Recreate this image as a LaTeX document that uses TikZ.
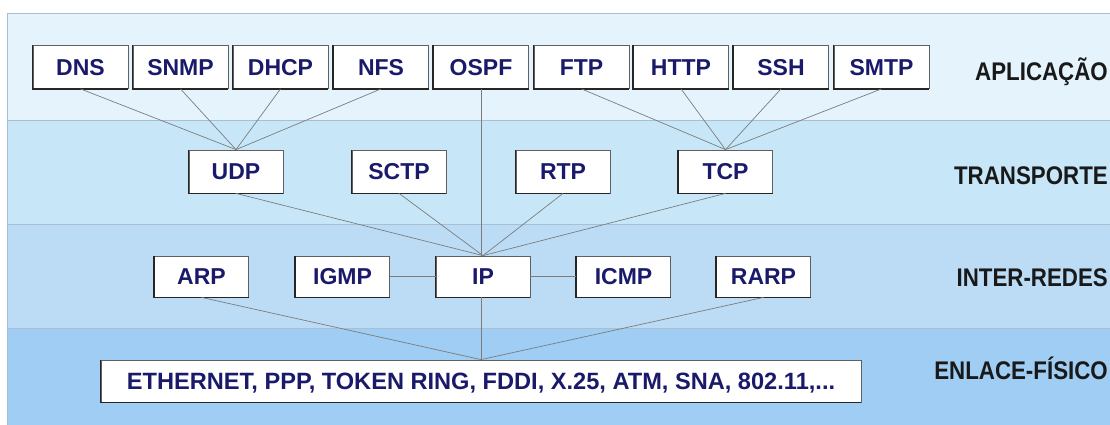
\documentclass[tikz,border=0pt]{standalone}
\usepackage{fontspec}
\setmainfont{Liberation Sans}
\usepackage{graphicx}
\definecolor{bandA}{HTML}{E5F3FC}
\definecolor{bandB}{HTML}{C7E7F9}
\definecolor{bandC}{HTML}{BCDCF6}
\definecolor{bandD}{HTML}{A0CDF3}
\definecolor{bandline}{HTML}{A9BFD1}
\definecolor{navy}{HTML}{1A1A6A}
\definecolor{wire}{HTML}{7C7C7C}
\tikzset{
  band/.style={fill=#1, draw=bandline, line width=0.8pt},
  proto/.style={draw=gray!75!black, fill=white, line width=0.8pt,
    minimum width=95pt, minimum height=43pt, inner sep=0pt,
    text height=16.5pt, text depth=0pt, text=navy,
    font=\fontsize{23}{23}\selectfont\bfseries},
  boxedge/.style={draw=black!85, line width=1.3pt},
  wirestyle/.style={draw=wire, line width=0.7pt},
  layer/.style={anchor=base east, inner sep=0pt, text=black!90,
    font=\fontsize{25.5}{25.5}\selectfont\bfseries}
}
\begin{document}
\begin{tikzpicture}[x=1pt,y=-1pt]
\useasboundingbox (0,0) rectangle (1110,425);
\fill[white] (0,0) rectangle (1110,425);
% layer bands
\path[band=bandA] (7,13) rectangle (1112,120);
\path[band=bandB] (7,120) rectangle (1112,224);
\path[band=bandC] (7,224) rectangle (1112,328);
\path[band=bandD] (7,328) rectangle (1112,427);

% application layer
\node[proto] (dns)  at (80.5,67)  {DNS};
\node[proto] (snmp) at (180.5,67) {SNMP};
\node[proto] (dhcp) at (280.5,67) {DHCP};
\node[proto] (nfs)  at (381,67)   {NFS};
\node[proto] (ospf) at (481,67)   {OSPF};
\node[proto] (ftp)  at (581.5,67) {FTP};
\node[proto] (http) at (681,67)   {HTTP};
\node[proto] (ssh)  at (781,67)   {SSH};
\node[proto] (smtp) at (881.5,67) {SMTP};

% transport layer
\node[proto, minimum width=94pt] (udp)  at (236,171.5) {UDP};
\node[proto, minimum width=94pt] (sctp) at (399,171.5) {SCTP};
\node[proto, minimum width=94pt] (rtp)  at (563,171.5) {RTP};
\node[proto, minimum width=94pt] (tcp)  at (725.5,171.5) {TCP};

% internet layer
\node[proto, minimum width=94pt, minimum height=41pt] (arp)  at (201.5,276.5) {ARP};
\node[proto, minimum width=94pt, minimum height=41pt] (igmp) at (342.5,276.5) {IGMP};
\node[proto, minimum width=94pt, minimum height=41pt] (ip)   at (483,276.5)   {IP};
\node[proto, minimum width=94pt, minimum height=41pt] (icmp) at (623.5,276.5) {ICMP};
\node[proto, minimum width=94pt, minimum height=41pt] (rarp) at (763.5,276.5) {RARP};

% link / physical layer
\node[proto, minimum width=760pt, minimum height=42pt, text height=17pt,
  font=\fontsize{23.6}{23.6}\selectfont\bfseries] (eth) at (481,381)
  {ETHERNET, PPP, TOKEN RING, FDDI, X.25, ATM, SNA, 802.11,...};

% darker left and bottom edges of the boxes
\foreach \n in {dns,snmp,dhcp,nfs,ospf,ftp,http,ssh,smtp,udp,sctp,rtp,tcp,arp,igmp,ip,icmp,rarp,eth}
  \draw[boxedge] (\n.north west) -- (\n.south west) -- (\n.south east);

% connectors
\foreach \n in {dns,snmp,dhcp,nfs}
  \draw[wirestyle] (\n.south) -- (udp.north);
\foreach \n in {ftp,http,ssh,smtp}
  \draw[wirestyle] (\n.south) -- (tcp.north);
\foreach \n in {udp,sctp,rtp,tcp}
  \draw[wirestyle] (\n.south) -- (ip.north);
\draw[wirestyle] (ospf.south) -- (ospf.south |- ip.north);
\draw[wirestyle] (eth.north) -- (eth.north |- ip.south);
\draw[wirestyle] (igmp.east) -- (ip.west);
\draw[wirestyle] (ip.east) -- (icmp.west);
\draw[wirestyle] (arp.south) -- (eth.north);
\draw[wirestyle] (rarp.south) -- (eth.north);

% layer names
\node[layer] (lapp) at (1108,81)  {\scalebox{0.875}[1]{APLICAÇÃO}};
\node[layer] (ltra) at (1108,184) {\scalebox{0.875}[1]{TRANSPORTE}};
\node[layer] (lint) at (1108,286) {\scalebox{0.875}[1]{INTER-REDES}};
\node[layer] (lenl) at (1108,379) {\scalebox{0.875}[1]{ENLACE-FÍSICO}};
\end{tikzpicture}
\end{document}
